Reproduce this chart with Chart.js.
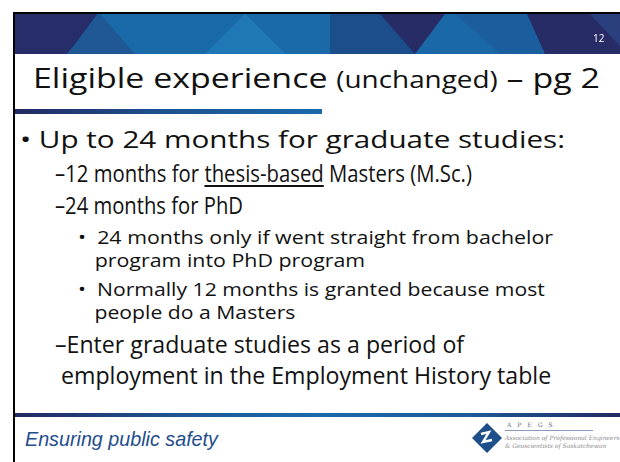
<!DOCTYPE html>
<html>
<head>
<meta charset="utf-8">
<script src="https://cdn.jsdelivr.net/npm/chart.js"></script>
<style>
  body { margin: 0; background: #fff; }
  #slide { position: relative; width: 620px; height: 462px; overflow: hidden; background: #fff; font-family: "Open Sans", "Noto Sans", sans-serif; color: #111; }
  .abs { position: absolute; }
  .ln { position: absolute; white-space: nowrap; line-height: 1; transform-origin: 0 0; }
  .u { text-decoration: underline; text-decoration-thickness: 1.5px; text-underline-offset: 3px; }
  #bandWrap { position: absolute; left: 15px; top: 14px; width: 605px; height: 40px; background: #1b5e9e; }
</style>
</head>
<body>
<div id="slide">
  <div class="abs" style="left:13px;top:12px;width:607px;height:2px;background:#000"></div>
  <div class="abs" style="left:13px;top:12px;width:2px;height:450px;background:#000"></div>
  <div id="bandWrap"><canvas id="band" width="605" height="40"></canvas></div>
  <div class="abs" style="left:593px;top:31px;font-size:10px;color:#fff">12</div>

  <div class="ln" data-w="567" style="left:33px;top:63px;font-size:28px">Eligible experience <span style="font-size:23px">(unchanged)</span> – pg 2</div>
  <div class="abs" style="left:15px;top:109px;width:307px;height:5px;background:linear-gradient(90deg,#232a62 0%,#1d4f8c 45%,#1a6aae 100%)"></div>

  <div class="ln" data-w="545" style="left:20px;top:127px;font-size:24px">• Up to 24 months for graduate studies:</div>
  <div class="ln" data-w="417" style="left:55px;top:162px;font-size:23px">–12 months for <span class="u">thesis-based</span> Masters (M.Sc.)</div>
  <div class="ln" data-w="188" style="left:55px;top:194px;font-size:23px">–24 months for PhD</div>
  <div class="ln" data-w="475" style="left:78px;top:226px;font-size:19px;line-height:23px">•&nbsp; 24 months only if went straight from bachelor<br>&nbsp;&nbsp;&nbsp;program into PhD program</div>
  <div class="ln" data-w="467" style="left:78px;top:278px;font-size:19px;line-height:23px">•&nbsp; Normally 12 months is granted because most<br>&nbsp;&nbsp;&nbsp;people do a Masters</div>
  <div class="ln" data-w="496" style="left:55px;top:328px;font-size:24px;line-height:31px">–Enter graduate studies as a period of<br>&nbsp;employment in the Employment History table</div>

  <div class="abs" style="left:15px;top:413px;width:605px;height:4px;background:linear-gradient(90deg,#232a62 0%,#1d5a98 30%,#1a6aae 50%,#1d5a98 75%,#232a62 100%)"></div>
  <div class="ln" data-w="193" style="left:25px;top:428px;font-size:21px;font-style:italic;color:#1f4e8c;font-family:'Liberation Sans Narrow','Liberation Sans',sans-serif">Ensuring public safety</div>

  <svg class="abs" style="left:470px;top:421px" width="34" height="34" viewBox="0 0 34 34">
    <polygon points="17,2 32,17 17,32 2,17" fill="#1f4f8a"/>
    <polyline points="11,13 19,11 13,21 22,19" fill="none" stroke="#fff" stroke-width="2.4"/>
  </svg>
  <div class="abs" style="left:507px;top:421px;font-size:6px;letter-spacing:6px;color:#6a6a7a;font-family:'DejaVu Serif',serif;line-height:7px">APEGS</div>
  <div class="abs" style="left:505px;top:430px;width:88px;height:1px;background:#8a9ab8"></div>
  <div class="abs" style="left:505px;top:434px;font-size:6px;font-style:italic;color:#8a8a8a;font-family:'DejaVu Serif',serif;line-height:8px;white-space:nowrap">Association of Professional Engineers<br>&amp; Geoscientists of Saskatchewan</div>
</div>

<script>
// header band triangles (x in page px, y 0 = bottom of band, 40 = top)
var navyLeft = [{x:15,y:0},{x:67,y:0},{x:97,y:40},{x:15,y:40}];
var triLeft = [{x:67,y:0},{x:135,y:0},{x:100,y:40}];
var lightMid = [{x:135,y:0},{x:330,y:0},{x:330,y:40},{x:100,y:40}];
var triMid = [{x:205,y:0},{x:285,y:0},{x:245,y:40}];
var darkMid = [{x:330,y:0},{x:415,y:0},{x:380,y:40},{x:330,y:40}];
var navyDown = [{x:380,y:40},{x:445,y:40},{x:415,y:0}];
var triRight = [{x:415,y:0},{x:500,y:0},{x:455,y:40},{x:445,y:40}];
var navyRight = [{x:527,y:40},{x:590,y:40},{x:620,y:8},{x:620,y:0},{x:545,y:0}];
var stripeRight = [{x:590,y:40},{x:620,y:40},{x:620,y:8}];

// listed top to bottom (first dataset is painted last)
var shapes = [
    [stripeRight, '#2a3f7e'],
    [navyRight, '#272c66'],
    [triRight, '#1b68a8'],
    [navyDown, '#272c66'],
    [darkMid, '#1d4e8c'],
    [triMid, '#2079b6'],
    [lightMid, '#1a6aaa'],
    [triLeft, '#1f5894'],
    [navyLeft, '#272d68']
];

new Chart(document.getElementById('band'), {
    type: 'line',
    data: {
        datasets: shapes.map(function(s) {
            return { data: s[0], fill: 'shape', backgroundColor: s[1], borderColor: s[1], borderWidth: 1, pointRadius: 0 };
        })
    },
    options: {
        responsive: false,
        animation: false,
        plugins: { legend: { display: false }, tooltip: { enabled: false } },
        scales: {
            x: { type: 'linear', min: 15, max: 620, display: false },
            y: { type: 'linear', min: 0, max: 40, display: false }
        }
    }
});

// squeeze each text block to the width it has on the slide
document.querySelectorAll('.ln').forEach(function(el) {
    var w = parseFloat(el.getAttribute('data-w'));
    var actual = el.getBoundingClientRect().width;
    if (w && actual) {
        el.style.transform = 'scaleX(' + (w / actual).toFixed(3) + ')';
    }
});
</script>
</body>
</html>
